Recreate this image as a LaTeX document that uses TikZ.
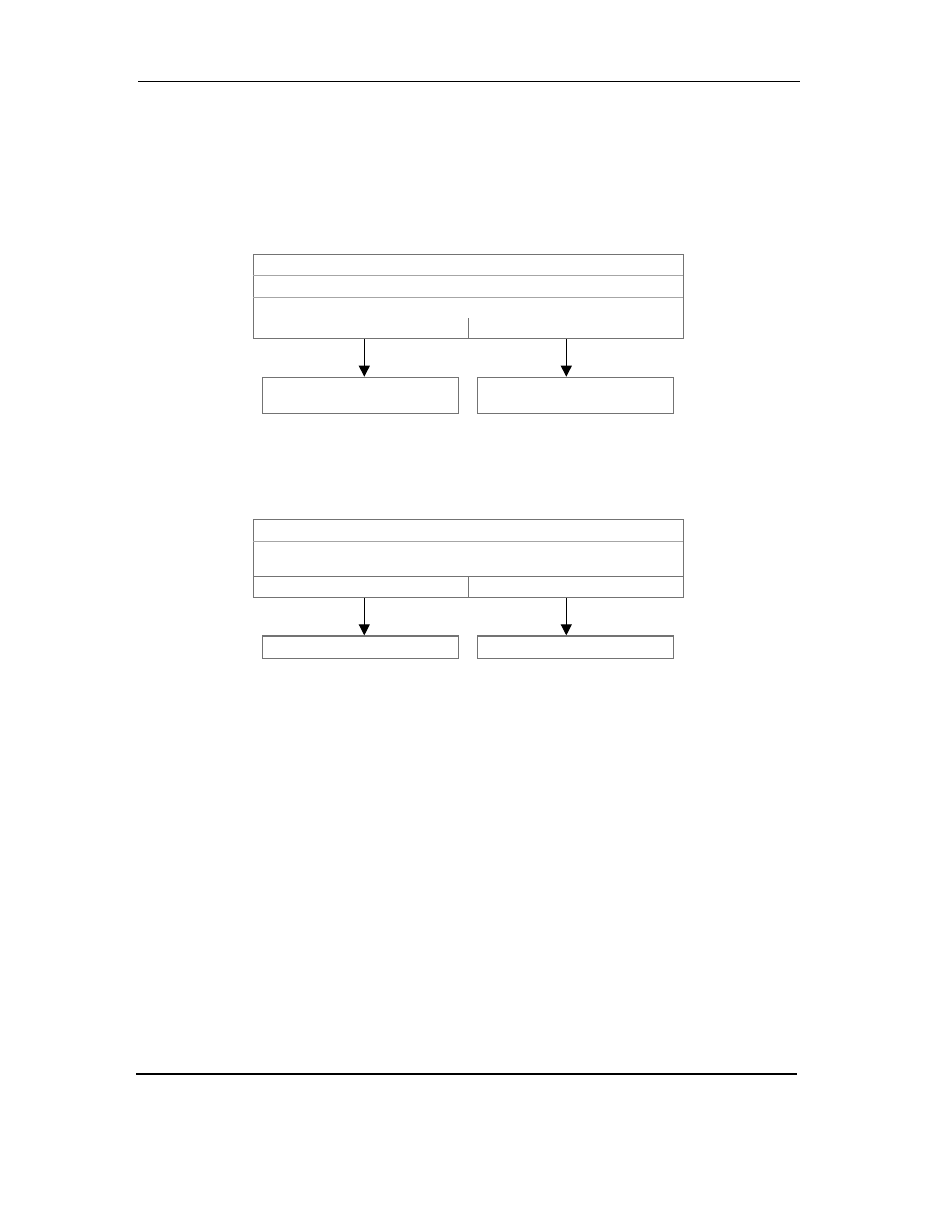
\documentclass[tikz,border=0pt]{standalone}
\usetikzlibrary{arrows.meta,positioning}
\tikzset{
  panel/.style={draw=black!55, line width=1.2pt, minimum width=430pt, inner sep=0pt},
  leaf/.style={draw=black!55, line width=1.2pt, minimum width=195.6pt, inner sep=0pt},
  divider/.style={draw=black!35, line width=1pt},
  flow/.style={line width=1.1pt, -{Triangle[width=11pt,length=11pt]}},
  pagerule/.style={line width=1.6pt},
}
\begin{document}
\begin{tikzpicture}[x=1pt,y=-1pt]
	\useasboundingbox (0,0) rectangle (935,1210);
	
	%%%%% page rules %%%%%
	\draw[pagerule] (138,81.5) -- (800,81.5);
	\draw[pagerule] (136,1074) -- (797,1074);
	
	%%%%% first diagram %%%%%
	\node[panel, minimum height=84pt] (upperA) at (468.3,296.7) {};
	\draw[divider] (253.3,275.3) -- (683.3,275.3);
	\draw[divider] (253.3,297) -- (683.3,297);
	\draw[draw=black!55, line width=1pt] (468,318) -- (upperA.south -| 468,0);
	
	\node[leaf, minimum height=36pt] (leftA) at (360.5,395.3) {};
	\node[leaf, minimum height=36pt] (rightA) at (575.3,395.3) {};
	
	\coordinate (colL) at (364.3,0);
	\coordinate (colR) at (566.3,0);
	\draw[flow] (upperA.south -| colL) -- (leftA.north -| colL);
	\draw[flow] (upperA.south -| colR) -- (rightA.north -| colR);
	
	%%%%% second diagram %%%%%
	\node[panel, minimum height=77.6pt] (upperB) at (468.3,558.5) {};
	\draw[divider] (253.3,541.3) -- (683.3,541.3);
	\draw[draw=black!55, line width=1pt] (253.3,576.3) -- (683.3,576.3);
	\draw[draw=black!55, line width=1pt] (468,576.3) -- (upperB.south -| 468,0);
	
	\node[leaf, minimum height=22.7pt] (leftB) at (360.5,647.3) {};
	\node[leaf, minimum height=22.7pt] (rightB) at (575.3,647.3) {};
	
	\draw[flow] (upperB.south -| colL) -- (leftB.north -| colL);
	\draw[flow] (upperB.south -| colR) -- (rightB.north -| colR);
\end{tikzpicture}
\end{document}
